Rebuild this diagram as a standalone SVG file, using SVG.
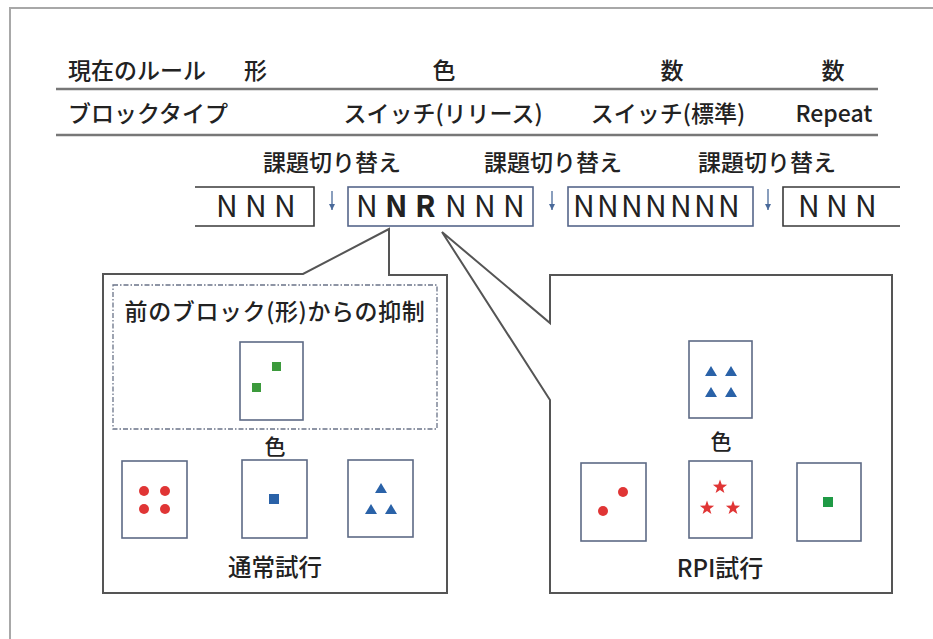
<svg xmlns="http://www.w3.org/2000/svg" width="933" height="639" viewBox="0 0 933 639">
<style>
  text { font-family: "Noto Sans CJK JP", "Noto Sans", sans-serif; fill: #222; font-weight: 500; }
  .h { font-size: 23px; }
  .lbl { font-size: 23px; text-anchor: middle; }
  .seq { font-size: 30px; fill: #222; font-weight: 400; }
  .b { font-weight: bold; }
  .rule { stroke: #777; stroke-width: 2.5; fill: none; }
  .boxk { stroke: #3a3a3a; stroke-width: 1.6; fill: none; }
  .boxb { stroke: #56668a; stroke-width: 1.6; fill: none; }
  .panel { stroke: #555; stroke-width: 2; fill: #fff; }
  .card { stroke: #5d6a85; stroke-width: 1.6; fill: #fff; }
  .dot { stroke: #6a7388; stroke-width: 1.3; fill: none; stroke-dasharray: 5 2 1.5 2; }
  .red { fill: #e03535; }
  .blue { fill: #2a62a8; }
  .green { fill: #3c9a3c; }
  .green2 { fill: #1f9a45; }
  .arr { stroke: #4a6a9a; stroke-width: 1.3; fill: none; }
</style>
<defs>
  <marker id="ah" viewBox="0 0 6 6" refX="6" refY="3" markerWidth="6" markerHeight="6" markerUnits="userSpaceOnUse" orient="auto">
    <path d="M0,0 L6,3 L0,6 Z" fill="#4a6a9a"/>
  </marker>
  <path id="tri" d="M0,-5 L6,5 L-6,5 Z"/>
  <path id="star" d="M0,-7.5 L1.77,-2.43 L7.13,-2.32 L2.85,0.93 L4.41,6.07 L0,3 L-4.41,6.07 L-2.85,0.93 L-7.13,-2.32 L-1.77,-2.43 Z"/>
</defs>

<!-- outer frame -->
<path d="M10,639 L10,8 L933,8" fill="none" stroke="#a8a8a8" stroke-width="2"/>

<!-- table -->
<g id="table">
  <text class="h" x="68" y="79">現在のルール</text>
  <text class="h" x="244" y="79">形</text>
  <text class="lbl" x="444" y="79">色</text>
  <text class="lbl" x="672" y="79">数</text>
  <text class="lbl" x="833" y="79">数</text>
  <line class="rule" x1="56" y1="89" x2="878" y2="89"/>
  <text class="h" x="68" y="122">ブロックタイプ</text>
  <text class="lbl" x="443" y="122">スイッチ(リリース)</text>
  <text class="lbl" x="668" y="122">スイッチ(標準)</text>
  <text class="lbl" x="834" y="122" style="font-size:23px">Repeat</text>
  <line class="rule" x1="56" y1="135" x2="878" y2="135"/>
</g>

<!-- switch labels -->
<g id="switch-labels">
  <text class="lbl" x="332" y="171">課題切り替え</text>
  <text class="lbl" x="553" y="171">課題切り替え</text>
  <text class="lbl" x="767" y="171">課題切り替え</text>
</g>

<!-- sequence blocks -->
<g id="block1">
  <path class="boxk" d="M195,187 L314,187 L314,226 L195,226"/>
  <text class="seq" x="216 231 245 260 274" y="217">N N N</text>
</g>
<g id="block2">
  <rect class="boxb" x="348" y="187" width="185" height="39"/>
  <text class="seq" y="217"><tspan x="356">N</tspan><tspan x="371"> </tspan><tspan class="b" x="385">N</tspan><tspan x="400"> </tspan><tspan class="b" x="415">R</tspan><tspan x="430"> </tspan><tspan x="445">N</tspan><tspan x="460"> </tspan><tspan x="474">N</tspan><tspan x="489"> </tspan><tspan x="503">N</tspan></text>
</g>
<g id="block3">
  <rect class="boxb" x="568" y="187" width="185" height="39"/>
  <text class="seq" x="573 585 597 609 621 633 645 657 670 682 694 706 718" y="217">N N N N N N N</text>
</g>
<g id="block4">
  <path class="boxk" d="M900,187 L783,187 L783,226 L900,226"/>
  <text class="seq" x="798 812 826 841 855" y="217">N N N</text>
</g>

<!-- connectors -->
<g id="connectors">
  <line class="arr" x1="332" y1="191" x2="332" y2="210" marker-end="url(#ah)"/>
  <line class="arr" x1="552" y1="191" x2="552" y2="210" marker-end="url(#ah)"/>
  <line class="arr" x1="768" y1="189" x2="768" y2="210" marker-end="url(#ah)"/>
</g>

<!-- left callout -->
<g id="normal-panel">
  <path class="panel" d="M103,274 L303,274 L389,229 L389,275 L447,275 L447,593 L103,593 Z"/>
  <rect class="dot" x="113" y="285" width="324" height="144"/>
  <text class="lbl" x="275" y="320" style="font-size:23px; letter-spacing:0.6px">前のブロック(形)からの抑制</text>
  <g id="prev-card">
    <rect class="card" x="240" y="342" width="63" height="78"/>
    <rect class="green" x="272" y="362" width="9" height="9"/>
    <rect class="green" x="252" y="383" width="9" height="9"/>
  </g>
  <text class="lbl" x="275" y="454" style="font-size:21px">色</text>
  <g id="n-card1">
    <rect class="card" x="122" y="461" width="65" height="77"/>
    <circle class="red" cx="144" cy="491" r="5"/>
    <circle class="red" cx="165" cy="491" r="5"/>
    <circle class="red" cx="144" cy="509" r="5"/>
    <circle class="red" cx="165" cy="509" r="5"/>
  </g>
  <g id="n-card2">
    <rect class="card" x="242" y="460" width="65" height="78"/>
    <rect class="blue" x="269" y="494" width="10" height="10"/>
  </g>
  <g id="n-card3">
    <rect class="card" x="348" y="460" width="65" height="77"/>
    <use href="#tri" class="blue" x="381" y="488"/>
    <use href="#tri" class="blue" x="371" y="509"/>
    <use href="#tri" class="blue" x="391" y="509"/>
  </g>
  <text class="lbl" x="275" y="576" style="font-size:23.5px">通常試行</text>
</g>

<!-- right callout -->
<g id="rpi-panel">
  <path class="panel" d="M550,275 L892,275 L892,593 L550,593 L550,400 L442,232 L550,323 Z"/>
  <g id="r-top-card">
    <rect class="card" x="689" y="341" width="63" height="77"/>
    <use href="#tri" class="blue" x="711" y="371"/>
    <use href="#tri" class="blue" x="731" y="371"/>
    <use href="#tri" class="blue" x="711" y="392"/>
    <use href="#tri" class="blue" x="731" y="392"/>
  </g>
  <text class="lbl" x="721" y="449" style="font-size:21px">色</text>
  <g id="r-card1">
    <rect class="card" x="581" y="463" width="65" height="78"/>
    <circle class="red" cx="623" cy="492" r="5"/>
    <circle class="red" cx="603" cy="511" r="5"/>
  </g>
  <g id="r-card2">
    <rect class="card" x="689" y="461" width="63" height="77"/>
    <use href="#star" class="red" x="720" y="487"/>
    <use href="#star" class="red" x="707" y="508"/>
    <use href="#star" class="red" x="733" y="508"/>
  </g>
  <g id="r-card3">
    <rect class="card" x="797" y="463" width="64" height="78"/>
    <rect class="green2" x="823" y="497" width="10" height="10"/>
  </g>
  <text class="lbl" x="720" y="577" style="font-size:24px">RPI試行</text>
</g>
</svg>
